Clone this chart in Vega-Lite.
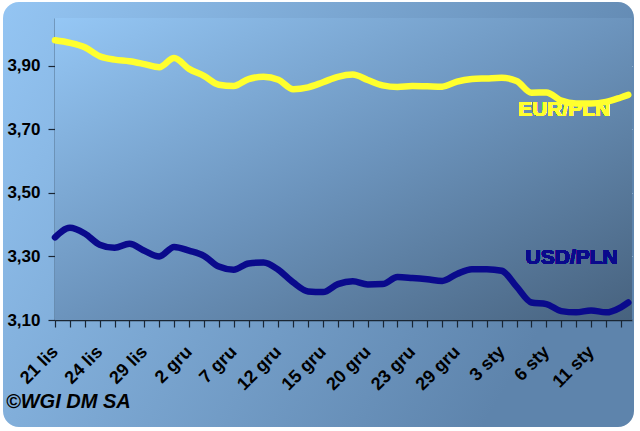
{
  "$schema": "https://vega.github.io/schema/vega-lite/v6.json",
  "width": 631,
  "height": 425,
  "autosize": {"type": "none"},
  "padding": {"left": 3, "top": 2, "right": 6, "bottom": 4},
  "background": "#ffffff",
  "view": {
    "cornerRadius": 16,
    "stroke": null,
    "fill": {
      "gradient": "linear", "x1": 0, "y1": 0, "x2": 1, "y2": 0.4,
      "stops": [{"offset": 0, "color": "#94c5f3"}, {"offset": 1, "color": "#5e84ac"}]
    }
  },
  "title": {
    "text": "©WGI DM SA",
    "orient": "bottom",
    "anchor": "start",
    "frame": "group",
    "offset": -35,
    "dx": 3,
    "font": "Liberation Sans",
    "fontSize": 20,
    "fontWeight": "bold",
    "fontStyle": "italic",
    "color": "#000000"
  },
  "data": {
    "values": [
      {"i": 0, "eur": 3.980, "usd": 3.360},
      {"i": 1, "eur": 3.972, "usd": 3.390},
      {"i": 2, "eur": 3.958, "usd": 3.372},
      {"i": 3, "eur": 3.930, "usd": 3.337},
      {"i": 4, "eur": 3.919, "usd": 3.327},
      {"i": 5, "eur": 3.914, "usd": 3.340},
      {"i": 6, "eur": 3.905, "usd": 3.318},
      {"i": 7, "eur": 3.895, "usd": 3.300},
      {"i": 8, "eur": 3.924, "usd": 3.330},
      {"i": 9, "eur": 3.890, "usd": 3.318},
      {"i": 10, "eur": 3.868, "usd": 3.302},
      {"i": 11, "eur": 3.840, "usd": 3.268},
      {"i": 12, "eur": 3.836, "usd": 3.258},
      {"i": 13, "eur": 3.858, "usd": 3.278},
      {"i": 14, "eur": 3.865, "usd": 3.281},
      {"i": 15, "eur": 3.856, "usd": 3.258},
      {"i": 16, "eur": 3.826, "usd": 3.218},
      {"i": 17, "eur": 3.832, "usd": 3.190},
      {"i": 18, "eur": 3.848, "usd": 3.188},
      {"i": 19, "eur": 3.865, "usd": 3.213},
      {"i": 20, "eur": 3.872, "usd": 3.222},
      {"i": 21, "eur": 3.855, "usd": 3.212},
      {"i": 22, "eur": 3.838, "usd": 3.213},
      {"i": 23, "eur": 3.833, "usd": 3.235},
      {"i": 24, "eur": 3.836, "usd": 3.232},
      {"i": 25, "eur": 3.835, "usd": 3.228},
      {"i": 26, "eur": 3.834, "usd": 3.223},
      {"i": 27, "eur": 3.850, "usd": 3.245},
      {"i": 28, "eur": 3.858, "usd": 3.260},
      {"i": 29, "eur": 3.860, "usd": 3.260},
      {"i": 30, "eur": 3.862, "usd": 3.255},
      {"i": 31, "eur": 3.852, "usd": 3.205},
      {"i": 32, "eur": 3.815, "usd": 3.155},
      {"i": 33, "eur": 3.816, "usd": 3.150},
      {"i": 34, "eur": 3.790, "usd": 3.128},
      {"i": 35, "eur": 3.781, "usd": 3.124},
      {"i": 36, "eur": 3.781, "usd": 3.130},
      {"i": 37, "eur": 3.786, "usd": 3.124},
      {"i": 38, "eur": 3.800, "usd": 3.140},
      {"i": 38.5, "eur": 3.808, "usd": 3.155}
    ]
  },
  "encoding": {
    "x": {
      "field": "i",
      "type": "quantitative",
      "scale": {"domain": [0, 38.75], "range": [52, 629], "nice": false, "zero": false},
      "axis": {
        "title": null,
        "offset": -107,
        "grid": false,
        "values": [0,1,2,3,4,5,6,7,8,9,10,11,12,13,14,15,16,17,18,19,20,21,22,23,24,25,26,27,28,29,30,31,32,33,34,35,36,37,38],
        "labelExpr": "({'0':'21 lis','3':'24 lis','6':'29 lis','9':'2 gru','12':'7 gru','15':'12 gru','18':'15 gru','21':'20 gru','24':'23 gru','27':'29 gru','30':'3 sty','33':'6 sty','36':'11 sty'})[''+datum.value] || ''",
        "labelAngle": -45,
        "labelAlign": "right",
        "labelBaseline": "middle",
        "labelPadding": 22,
        "labelFont": "Liberation Sans",
        "labelFontSize": 18,
        "labelFontWeight": "bold",
        "labelColor": "#000000",
        "labelOverlap": false,
        "labelBound": false,
        "labelFlush": false,
        "tickSize": 7,
        "tickColor": "#1a2633",
        "tickWidth": 1.2,
        "domainColor": "#1a2633",
        "domainWidth": 1.5,
        "encode": {"ticks": {"update": {"y": {"value": -6}}}}
      }
    }
  },
  "layer": [
    {
      "mark": {
        "type": "rect",
        "fill": {
          "gradient": "linear", "x1": 0, "y1": 0, "x2": 1, "y2": 1,
          "stops": [{"offset": 0, "color": "#95c7f5"}, {"offset": 0.5, "color": "#6c94bd"}, {"offset": 1, "color": "#47627e"}]
        }
      },
      "encoding": {
        "x": {"datum": 0, "type": "quantitative"},
        "x2": {"datum": 38.75},
        "y": {"datum": 3.1, "type": "quantitative"},
        "y2": {"datum": 4.05}
      }
    },
    {
      "mark": {"type": "line", "color": "#ffff2e", "strokeWidth": 6.5, "interpolate": "monotone", "strokeCap": "round", "strokeJoin": "round"},
      "encoding": {
        "y": {
          "field": "eur",
          "type": "quantitative",
          "scale": {"domain": [3.1, 4.05], "range": [318, 16], "nice": false, "zero": false},
          "axis": {
            "title": null,
            "offset": -52,
            "values": [3.1, 3.3, 3.5, 3.7, 3.9],
            "labelExpr": "replace(format(datum.value, '.2f'), '.', ',')",
            "labelFont": "Liberation Sans",
            "labelFontSize": 17,
            "labelFontWeight": "bold",
            "labelColor": "#000000",
            "labelPadding": 8,
            "tickSize": 7,
            "tickColor": "#1a2633",
            "tickWidth": 1.2,
            "domainColor": "#1a2633",
            "domainWidth": 1.5,
            "grid": true,
            "gridColor": "#cfe4f7",
            "gridOpacity": 0.75,
            "gridWidth": 1.2,
            "encode": {"ticks": {"update": {"x": {"value": 3}}}}
          }
        }
      }
    },
    {
      "mark": {"type": "line", "color": "#0a0a8c", "strokeWidth": 6.5, "interpolate": "monotone", "strokeCap": "round", "strokeJoin": "round"},
      "encoding": {"y": {"field": "usd", "type": "quantitative"}}
    },
    {
      "mark": {"type": "text", "text": "EUR/PLN", "color": "#ffff2e", "font": "Liberation Sans", "fontSize": 21, "fontWeight": "bold", "align": "center", "baseline": "middle"},
      "encoding": {
        "x": {"datum": 34.2, "type": "quantitative"},
        "y": {"datum": 3.76, "type": "quantitative"}
      }
    },
    {
      "mark": {"type": "text", "text": "USD/PLN", "color": "#0a0a8c", "font": "Liberation Sans", "fontSize": 21, "fontWeight": "bold", "align": "center", "baseline": "middle"},
      "encoding": {
        "x": {"datum": 34.7, "type": "quantitative"},
        "y": {"datum": 3.295, "type": "quantitative"}
      }
    }
  ]
}
